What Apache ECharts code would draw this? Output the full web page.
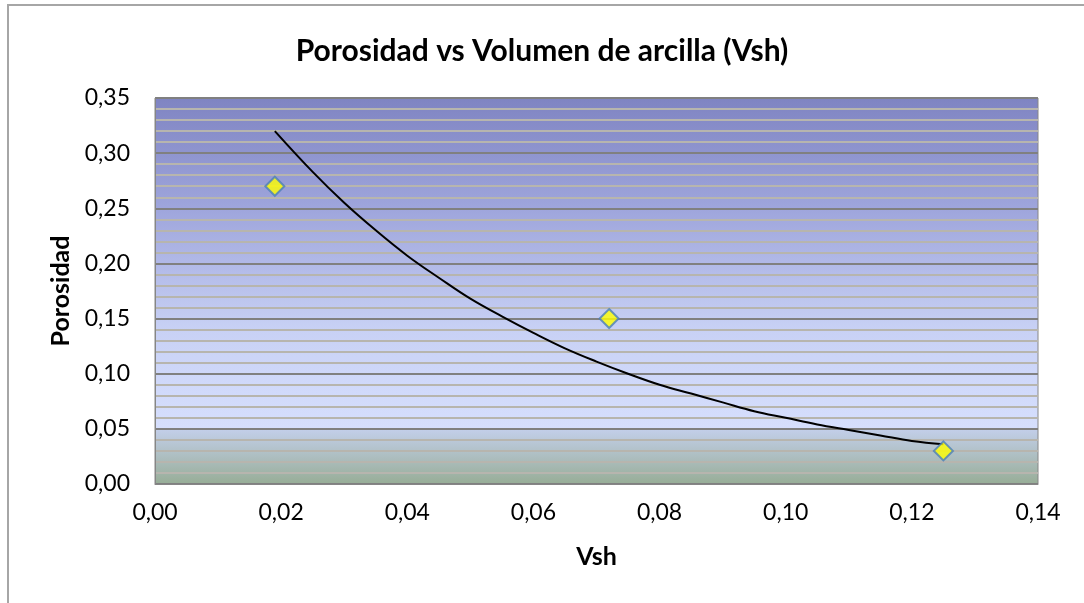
<!DOCTYPE html>
<html>
<head>
<meta charset="utf-8">
<script src="https://cdn.jsdelivr.net/npm/echarts@6/dist/echarts.min.js"></script>
<style>
  html, body { margin: 0; padding: 0; background: #ffffff; }
  #chart { width: 1084px; height: 603px; }
</style>
</head>
<body>
<div id="chart"></div>
<script>
// Measured samples: clay volume (Vsh) and porosity
const vsh = [0.019, 0.072, 0.125];
const porosidad = [0.27, 0.15, 0.03];

// Exponential trend line, sampled along Vsh
const trendVsh = [0.019, 0.025, 0.03, 0.035, 0.04, 0.045, 0.05, 0.055, 0.06, 0.065, 0.07,
                  0.075, 0.08, 0.085, 0.09, 0.095, 0.10, 0.105, 0.11, 0.115, 0.12, 0.125];
const trendPorosidad = [0.320, 0.283, 0.255, 0.230, 0.207, 0.187, 0.168, 0.152, 0.137, 0.123, 0.111,
                        0.100, 0.090, 0.082, 0.074, 0.066, 0.060, 0.054, 0.049, 0.044, 0.039, 0.036];

// Axis ranges and tick step
const xTicks = { min: 0, max: 0.14, step: 0.02 };
const yTicks = { min: 0, max: 0.35, step: 0.05 };

const FONT = 'Lato, "Open Sans", sans-serif';
const fmt = v => v.toFixed(2).replace('.', ',');

const chart = echarts.init(document.getElementById('chart'), null, { renderer: 'canvas' });

chart.setOption({
  backgroundColor: '#ffffff',
  animation: false,
  title: {
    text: 'Porosidad vs Volumen de arcilla (Vsh)',
    left: 'center',
    top: 31,
    textStyle: { fontFamily: FONT, fontSize: 30, fontWeight: 'bold', color: '#000000' }
  },
  graphic: [{
    type: 'rect',
    shape: { x: 8, y: 5, width: 1200, height: 700 },
    style: { fill: null, stroke: '#a6a6a6', lineWidth: 2 },
    silent: true,
    z: -1
  }],
  grid: {
    left: 155, top: 98, right: 46, bottom: 119,
    show: true,
    borderColor: '#868686',
    borderWidth: 1,
    backgroundColor: {
      type: 'linear', x: 0, y: 0, x2: 0, y2: 1,
      colorStops: [
        { offset: 0.00, color: '#7f84c2' },
        { offset: 0.30, color: '#a0a7dd' },
        { offset: 0.60, color: '#c8d1f5' },
        { offset: 0.855, color: '#d6dffd' },
        { offset: 0.86, color: '#c2cee8' },
        { offset: 1.00, color: '#97ad96' }
      ]
    }
  },
  xAxis: {
    type: 'value',
    min: xTicks.min, max: xTicks.max, interval: xTicks.step,
    name: 'Vsh',
    nameLocation: 'middle',
    nameGap: 60,
    nameTextStyle: { fontFamily: FONT, fontSize: 25, fontWeight: 'bold', color: '#000000' },
    axisLine: { show: true, onZero: false, lineStyle: { color: '#868686', width: 1 } },
    axisTick: { show: false },
    axisLabel: { fontFamily: FONT, fontSize: 23, color: '#000000', margin: 17, formatter: fmt },
    splitLine: { show: false }
  },
  yAxis: {
    type: 'value',
    min: yTicks.min, max: yTicks.max, interval: yTicks.step,
    name: 'Porosidad',
    nameLocation: 'middle',
    nameGap: 72,
    nameRotate: 90,
    nameTextStyle: { fontFamily: FONT, fontSize: 25, fontWeight: 'bold', color: '#000000' },
    axisLine: { show: true, lineStyle: { color: '#868686', width: 1 } },
    axisTick: { show: false },
    axisLabel: { fontFamily: FONT, fontSize: 23, color: '#000000', margin: 25, formatter: fmt },
    splitLine: { show: true, lineStyle: { color: '#808080', width: 2 } },
    minorTick: { show: false, splitNumber: 5 },
    minorSplitLine: { show: true, lineStyle: { color: '#b7b5ae', width: 2 } }
  },
  series: [
    {
      name: 'Tendencia',
      type: 'line',
      data: trendVsh.map((x, i) => [x, trendPorosidad[i]]),
      smooth: 0.4,
      showSymbol: false,
      symbol: 'none',
      lineStyle: { color: '#000000', width: 2 },
      z: 2
    },
    {
      name: 'Porosidad',
      type: 'scatter',
      data: vsh.map((x, i) => [x, porosidad[i]]),
      symbol: 'diamond',
      symbolSize: [19, 19],
      itemStyle: { color: '#ffff00', borderColor: '#4a7ebb', borderWidth: 2 },
      z: 3
    }
  ]
});
</script>
</body>
</html>
